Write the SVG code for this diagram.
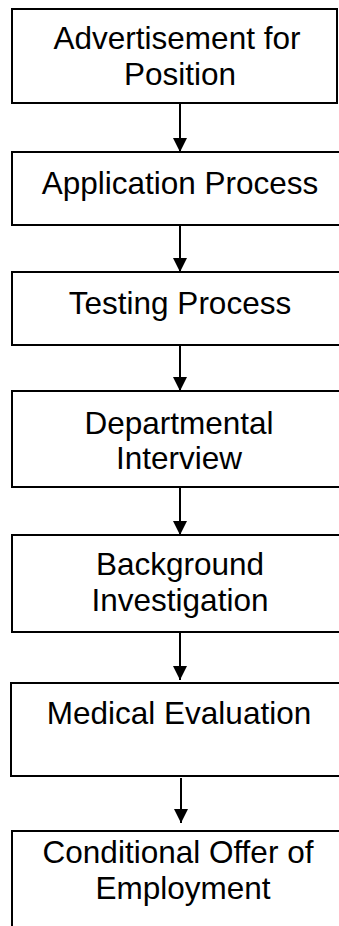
<svg xmlns="http://www.w3.org/2000/svg" width="339" height="926" viewBox="0 0 339 926">
<style>
.box{fill:#fff;stroke:#000;stroke-width:2}
.t{font-family:"Liberation Sans",Arial,sans-serif;font-size:31.5px;fill:#000;text-anchor:middle}
.c{stroke:#000;stroke-width:2;fill:none}
</style>
<defs>
<marker id="ah" markerWidth="14" markerHeight="14" viewBox="0 0 14 14" refX="14" refY="7" orient="auto" markerUnits="userSpaceOnUse">
<path d="M0,0 L14,7 L0,14 Z" fill="#000"/>
</marker>
</defs>
<rect width="339" height="926" fill="#fff"/>
<g id="connectors">
<line class="c" x1="180" y1="104" x2="180" y2="152" marker-end="url(#ah)"/>
<line class="c" x1="180" y1="226" x2="180" y2="272" marker-end="url(#ah)"/>
<line class="c" x1="180" y1="346" x2="180" y2="391" marker-end="url(#ah)"/>
<line class="c" x1="180" y1="488" x2="180" y2="535" marker-end="url(#ah)"/>
<line class="c" x1="180" y1="633" x2="180" y2="680" marker-end="url(#ah)"/>
<line class="c" x1="181" y1="778" x2="181" y2="823" marker-end="url(#ah)"/>
</g>
<g id="n1"><rect class="box" x="12" y="9" width="325" height="94"/>
<text class="t" x="177" y="49">Advertisement for</text><text class="t" x="180" y="85">Position</text></g>
<g id="n2"><rect class="box" x="12" y="152" width="340" height="73"/>
<text class="t" x="180" y="194">Application Process</text></g>
<g id="n3"><rect class="box" x="12" y="272" width="340" height="73"/>
<text class="t" x="180" y="314">Testing Process</text></g>
<g id="n4"><rect class="box" x="12" y="391" width="340" height="96"/>
<text class="t" x="179" y="434">Departmental</text><text class="t" x="179" y="469">Interview</text></g>
<g id="n5"><rect class="box" x="12" y="535" width="340" height="97"/>
<text class="t" x="180" y="575">Background</text><text class="t" x="180" y="611">Investigation</text></g>
<g id="n6"><rect class="box" x="11" y="683" width="341" height="93"/>
<text class="t" x="179" y="724">Medical Evaluation</text></g>
<g id="n7"><rect class="box" x="12" y="831" width="340" height="120"/>
<text class="t" x="178" y="863">Conditional Offer of</text><text class="t" x="183" y="899">Employment</text></g>
</svg>
